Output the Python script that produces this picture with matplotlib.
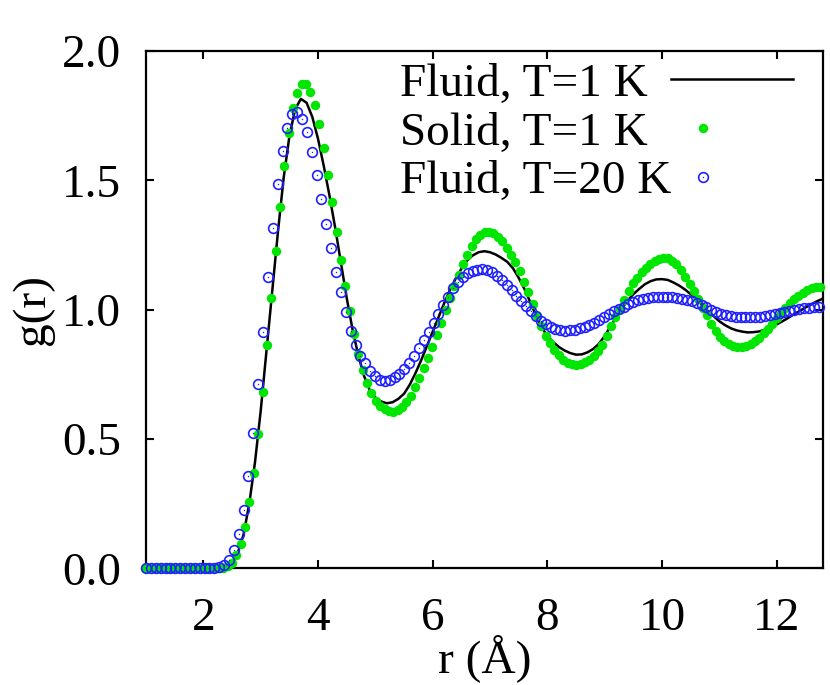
import numpy as np
import matplotlib
matplotlib.use('Agg')
import matplotlib.pyplot as plt
from matplotlib.lines import Line2D
from matplotlib.ticker import FormatStrFormatter
from matplotlib.legend_handler import HandlerTuple, HandlerLine2DCompound

# g(r)
# fluid, T=1 K : line, sampled every 0.1 A starting at r = 1.0
g_fluid_1K = [
    0, 0, 0, 0, 0, 0, 0, 0, 0, 0, 0, 0, 0,
    0.003, 0.010, 0.025, 0.060, 0.130, 0.250, 0.410,
    0.610, 0.840, 1.070, 1.300, 1.510, 1.670, 1.775, 1.815, 1.800, 1.745,
    1.660, 1.555, 1.440, 1.315, 1.180, 1.045, 0.925, 0.825, 0.745, 0.690,
    0.660, 0.645, 0.638, 0.642, 0.655, 0.675, 0.710, 0.755, 0.805, 0.860,
    0.915, 0.970, 1.025, 1.075, 1.120, 1.158, 1.190, 1.210, 1.222, 1.226,
    1.222, 1.213, 1.200, 1.185, 1.160, 1.123, 1.080, 1.030, 0.978, 0.932,
    0.898, 0.875, 0.856, 0.842, 0.832, 0.826, 0.827, 0.835, 0.848, 0.868,
    0.898, 0.935, 0.970, 1.005, 1.035, 1.060, 1.080, 1.098, 1.110, 1.117,
    1.118, 1.115, 1.105, 1.093, 1.078, 1.060, 1.040, 1.018, 0.995, 0.975,
    0.955, 0.940, 0.928, 0.920, 0.915, 0.912, 0.913, 0.916, 0.923, 0.932,
    0.943, 0.955, 0.968, 0.982, 0.995, 1.008, 1.020, 1.032, 1.042,
]
r0_fluid_1K, dr_fluid_1K = 1.0, 0.1

# solid, T=1 K : filled dots, every 0.076 A starting at r = 0.98
g_solid_1K = [
    0, 0, 0, 0, 0, 0, 0, 0, 0, 0, 0, 0, 0, 0, 0, 0, 0, 0,
    0.002, 0.008, 0.022, 0.050, 0.095, 0.160, 0.255, 0.370, 0.520, 0.683,
    0.865, 1.044, 1.228, 1.398, 1.556, 1.682, 1.779, 1.839, 1.873, 1.873,
    1.843, 1.790, 1.717, 1.624, 1.521, 1.415, 1.302, 1.192, 1.092, 0.995,
    0.905, 0.830, 0.765, 0.715, 0.676, 0.647, 0.627, 0.614, 0.607, 0.606,
    0.611, 0.624, 0.642, 0.668, 0.700, 0.735, 0.773, 0.814, 0.857, 0.902,
    0.950, 0.998, 1.045, 1.090, 1.135, 1.175, 1.210, 1.245, 1.272, 1.290,
    1.300, 1.302, 1.295, 1.282, 1.264, 1.240, 1.213, 1.186, 1.150, 1.105,
    1.068, 1.020, 0.975, 0.935, 0.898, 0.870, 0.845, 0.823, 0.806, 0.795,
    0.788, 0.786, 0.790, 0.797, 0.807, 0.821, 0.840, 0.862, 0.897, 0.937,
    0.970, 1.003, 1.038, 1.073, 1.102, 1.124, 1.145, 1.160, 1.175, 1.187,
    1.196, 1.200, 1.199, 1.190, 1.175, 1.155, 1.128, 1.100, 1.072, 1.040,
    1.008, 0.978, 0.946, 0.917, 0.895, 0.878, 0.866, 0.859, 0.855, 0.855,
    0.859, 0.866, 0.877, 0.892, 0.909, 0.926, 0.946, 0.967, 0.988, 1.008,
    1.025, 1.040, 1.053, 1.065, 1.075, 1.082, 1.086, 1.089,
]
r0_solid_1K, dr_solid_1K = 0.98, 0.076

# fluid, T=20 K : open circles, every 0.085 A starting at r = 1.0
g_fluid_20K = [
    0, 0, 0, 0, 0, 0, 0, 0, 0, 0, 0, 0, 0, 0, 0,
    0.005, 0.012, 0.032, 0.071, 0.133, 0.225, 0.357, 0.522, 0.713, 0.915,
    1.128, 1.316, 1.485, 1.615, 1.704, 1.756, 1.766, 1.737, 1.686, 1.609,
    1.522, 1.429, 1.330, 1.237, 1.147, 1.068, 0.992, 0.918, 0.862, 0.822,
    0.792, 0.763, 0.742, 0.729, 0.724, 0.728, 0.738, 0.752, 0.770, 0.795,
    0.822, 0.851, 0.881, 0.915, 0.950, 0.983, 1.018, 1.050, 1.082, 1.106,
    1.127, 1.141, 1.150, 1.155, 1.156, 1.152, 1.144, 1.130, 1.113, 1.094,
    1.076, 1.054, 1.032, 1.013, 0.996, 0.976, 0.958, 0.945, 0.934, 0.926,
    0.921, 0.919, 0.920, 0.923, 0.928, 0.934, 0.941, 0.950, 0.960, 0.971,
    0.984, 0.994, 1.003, 1.012, 1.022, 1.030, 1.036, 1.040, 1.044, 1.047,
    1.049, 1.050, 1.050, 1.049, 1.046, 1.042, 1.037, 1.032, 1.026, 1.018,
    1.009, 1.000, 0.992, 0.985, 0.979, 0.975, 0.972, 0.970, 0.970, 0.970,
    0.971, 0.973, 0.976, 0.979, 0.983, 0.987, 0.991, 0.995, 0.998, 1.002,
    1.005, 1.008, 1.010, 1.012,
]
r0_fluid_20K, dr_fluid_20K = 1.0, 0.085

labels = ['Fluid, T=1 K', 'Solid, T=1 K', 'Fluid, T=20 K']
x_ticks = [2, 4, 6, 8, 10, 12]
y_ticks = [0.0, 0.5, 1.0, 1.5, 2.0]

r_fluid_1K = r0_fluid_1K + dr_fluid_1K * np.arange(len(g_fluid_1K))
r_solid_1K = r0_solid_1K + dr_solid_1K * np.arange(len(g_solid_1K))
r_fluid_20K = r0_fluid_20K + dr_fluid_20K * np.arange(len(g_fluid_20K))


# gnuplot-like key sample: point drawn near the left of the sample area
class KeyPoint(HandlerLine2DCompound):
    def get_xdata(self, legend, xdescent, ydescent, width, height, fontsize):
        xdata = np.array([-xdescent, -xdescent + width])
        return xdata, np.array([-xdescent + 0.26 * width])


plt.rcParams['font.family'] = ['Liberation Serif', 'DejaVu Serif']

green = '#00e600'
blue = '#2020ff'
fs = 34

fig = plt.figure(figsize=(8.3, 6.85), dpi=100)
ax = fig.add_axes([0.176, 0.1704, 0.815, 0.7551])

line, = ax.plot(r_fluid_1K, g_fluid_1K, color='black', lw=1.8, zorder=2)
solid, = ax.plot(r_solid_1K, g_solid_1K, 'o', color=green, ms=6.8, mec='none',
                 clip_on=False, zorder=3)
ring, = ax.plot(r_fluid_20K, g_fluid_20K, 'o', mfc='none', mec=blue, mew=1.2,
                ms=7, clip_on=False, zorder=4)
dot, = ax.plot(r_fluid_20K, g_fluid_20K, 'o', color=blue, ms=1.0, mec='none',
               clip_on=False, zorder=4)

ax.set_xlim(1.0, 12.8)
ax.set_ylim(0.0, 2.0)
ax.set_xticks(x_ticks)
ax.set_yticks(y_ticks)
ax.yaxis.set_major_formatter(FormatStrFormatter('%.1f'))
ax.tick_params(direction='in', length=6, width=1.5, top=True, right=True,
               labelsize=fs)
ax.tick_params(axis='x', pad=21)
ax.tick_params(axis='y', pad=18)
for s in ax.spines.values():
    s.set_linewidth(1.6)

ax.set_xlabel('r (Å)', fontsize=fs, labelpad=-4)
ax.set_ylabel('g(r)', fontsize=fs, labelpad=6)

# key: samples in one legend, left-justified texts in a second one
key_opts = dict(frameon=False, fontsize=fs, borderpad=0, borderaxespad=0,
                labelspacing=0.12)
key_top = 0.977
keyp = KeyPoint()
samples = ax.legend([line, solid, (ring, dot)], [' '] * 3, loc='upper right',
                    bbox_to_anchor=(0.9566, key_top), markerfirst=False,
                    handlelength=2.58, handletextpad=0,
                    handler_map={tuple: HandlerTuple(ndivide=1),
                                 solid: keyp, ring: keyp, dot: keyp},
                    **key_opts)
ax.add_artist(samples)
blank = [Line2D([], [], linestyle='none') for _ in labels]
ax.legend(blank, labels, loc='upper left', bbox_to_anchor=(0.3754, key_top),
          handlelength=0, handletextpad=0, **key_opts)

fig.savefig('out.png', dpi=100)
